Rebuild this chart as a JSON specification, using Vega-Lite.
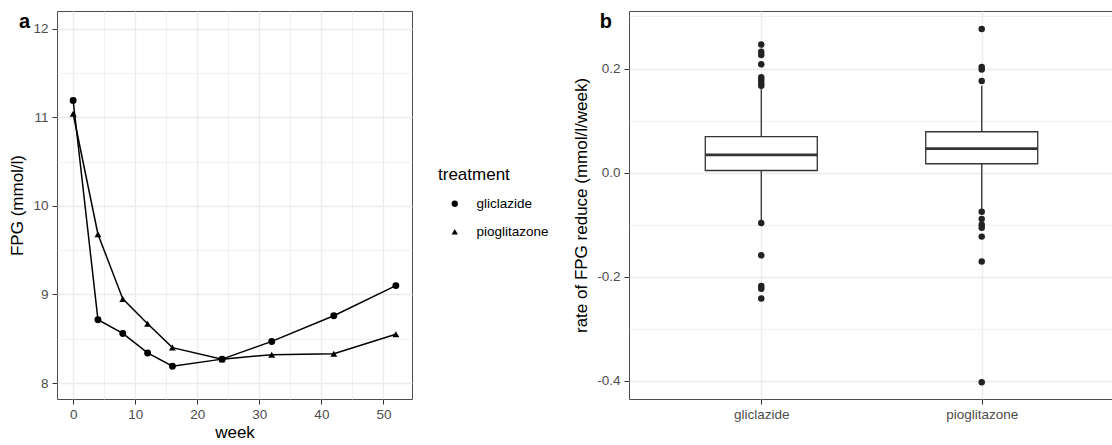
{
  "$schema": "https://vega.github.io/schema/vega-lite/v6.json",
  "padding": {"left": 8, "top": 10, "right": 0, "bottom": 0},
  "background": "white",
  "spacing": 22,
  "datasets": {
    "fpg": [
      {"treatment": "gliclazide", "week": 0, "FPG": 11.19},
      {"treatment": "gliclazide", "week": 4, "FPG": 8.715},
      {"treatment": "gliclazide", "week": 8, "FPG": 8.56},
      {"treatment": "gliclazide", "week": 12, "FPG": 8.34},
      {"treatment": "gliclazide", "week": 16, "FPG": 8.19},
      {"treatment": "gliclazide", "week": 24, "FPG": 8.27},
      {"treatment": "gliclazide", "week": 32, "FPG": 8.47},
      {"treatment": "gliclazide", "week": 42, "FPG": 8.76},
      {"treatment": "gliclazide", "week": 52, "FPG": 9.1},
      {"treatment": "pioglitazone", "week": 0, "FPG": 11.04},
      {"treatment": "pioglitazone", "week": 4, "FPG": 9.68},
      {"treatment": "pioglitazone", "week": 8, "FPG": 8.95},
      {"treatment": "pioglitazone", "week": 12, "FPG": 8.67},
      {"treatment": "pioglitazone", "week": 16, "FPG": 8.4},
      {"treatment": "pioglitazone", "week": 24, "FPG": 8.27},
      {"treatment": "pioglitazone", "week": 32, "FPG": 8.32},
      {"treatment": "pioglitazone", "week": 42, "FPG": 8.33},
      {"treatment": "pioglitazone", "week": 52, "FPG": 8.55}
    ],
    "box": [
      {"treatment": "gliclazide", "lower": -0.092, "q1": 0.004, "median": 0.034, "q3": 0.069, "upper": 0.163},
      {"treatment": "pioglitazone", "lower": -0.071, "q1": 0.017, "median": 0.046, "q3": 0.0785, "upper": 0.167}
    ],
    "out": [
      {"treatment": "gliclazide", "rate": 0.246},
      {"treatment": "gliclazide", "rate": 0.232},
      {"treatment": "gliclazide", "rate": 0.226},
      {"treatment": "gliclazide", "rate": 0.208},
      {"treatment": "gliclazide", "rate": 0.183},
      {"treatment": "gliclazide", "rate": 0.178},
      {"treatment": "gliclazide", "rate": 0.172},
      {"treatment": "gliclazide", "rate": 0.167},
      {"treatment": "gliclazide", "rate": -0.097},
      {"treatment": "gliclazide", "rate": -0.159},
      {"treatment": "gliclazide", "rate": -0.218},
      {"treatment": "gliclazide", "rate": -0.223},
      {"treatment": "gliclazide", "rate": -0.242},
      {"treatment": "pioglitazone", "rate": 0.276},
      {"treatment": "pioglitazone", "rate": 0.203},
      {"treatment": "pioglitazone", "rate": 0.198},
      {"treatment": "pioglitazone", "rate": 0.176},
      {"treatment": "pioglitazone", "rate": -0.075},
      {"treatment": "pioglitazone", "rate": -0.089},
      {"treatment": "pioglitazone", "rate": -0.1},
      {"treatment": "pioglitazone", "rate": -0.106},
      {"treatment": "pioglitazone", "rate": -0.123},
      {"treatment": "pioglitazone", "rate": -0.171},
      {"treatment": "pioglitazone", "rate": -0.403}
    ]
  },
  "hconcat": [
    {
      "width": 355,
      "height": 388,
      "title": {"text": "a", "anchor": "start", "frame": "bounds", "orient": "top", "offset": -37, "baseline": "alphabetic", "dx": 10, "fontSize": 20, "fontWeight": "bold", "color": "#000"},
      "data": {"name": "fpg"},
      "encoding": {
        "x": {
          "field": "week", "type": "quantitative",
          "scale": {"domain": [-2.6, 54.6], "nice": false, "zero": false},
          "axis": {
            "title": "week",
            "values": [0, 5, 10, 15, 20, 25, 30, 35, 40, 45, 50],
            "labelExpr": "datum.value % 10 === 0 ? format(datum.value, 'd') : ''",
            "tickOpacity": {"condition": {"test": "datum.value % 10 !== 0", "value": 0}, "value": 1},
            "gridWidth": {"condition": {"test": "datum.value % 10 !== 0", "value": 0.7}, "value": 1.3},
            "labelPadding": 3,
            "titlePadding": 4
          }
        },
        "y": {
          "field": "FPG", "type": "quantitative",
          "scale": {"domain": [7.82, 12.2], "nice": false, "zero": false},
          "axis": {
            "title": "FPG (mmol/l)",
            "values": [8, 8.5, 9, 9.5, 10, 10.5, 11, 11.5, 12],
            "labelExpr": "datum.value % 1 === 0 ? format(datum.value, 'd') : ''",
            "tickOpacity": {"condition": {"test": "datum.value % 1 !== 0", "value": 0}, "value": 1},
            "gridWidth": {"condition": {"test": "datum.value % 1 !== 0", "value": 0.7}, "value": 1.3},
            "titlePadding": 6
          }
        }
      },
      "layer": [
        {
          "mark": {"type": "line", "color": "#000", "strokeWidth": 1.5},
          "encoding": {"detail": {"field": "treatment"}}
        },
        {
          "mark": {"type": "point", "filled": true, "opacity": 1, "color": "#000"},
          "encoding": {
            "shape": {
              "field": "treatment", "type": "nominal",
              "scale": {"domain": ["gliclazide", "pioglitazone"], "range": ["circle", "triangle-up"]},
              "legend": {
                "title": "treatment",
                "orient": "none",
                "legendX": 381,
                "legendY": 156,
                "padding": 0,
                "titleFontSize": 17,
                "titleFontWeight": "normal",
                "titleColor": "#000",
                "titleFont": "Liberation Sans",
                "titlePadding": 13,
                "labelFontSize": 13.5,
                "labelColor": "#000",
                "labelFont": "Liberation Sans",
                "symbolSize": 40,
                "symbolFillColor": "#000",
                "symbolStrokeColor": "#000",
                "symbolStrokeWidth": 0,
                "symbolOffset": 10,
                "labelOffset": 15,
                "rowPadding": 13
              }
            },
            "size": {"value": 48}
          }
        }
      ],
      "resolve": {"scale": {"shape": "independent"}, "legend": {"shape": "independent"}}
    },
    {
      "width": 485,
      "height": 388,
      "title": {"text": "b", "anchor": "start", "frame": "bounds", "orient": "top", "offset": -37, "baseline": "alphabetic", "dx": 27, "fontSize": 20, "fontWeight": "bold", "color": "#000"},
      "encoding": {
        "x": {
          "field": "treatment", "type": "nominal",
          "scale": {"type": "point", "domain": ["gliclazide", "pioglitazone"], "padding": 0.6},
          "axis": {"title": null, "labelAngle": 0, "labelPadding": 3, "gridWidth": 1.3}
        }
      },
      "layer": [
        {
          "data": {"name": "box"},
          "mark": {"type": "rule", "color": "#333", "strokeWidth": 1.3},
          "encoding": {
            "y": {
              "field": "lower", "type": "quantitative",
              "scale": {"domain": [-0.435, 0.3105], "nice": false, "zero": false},
              "axis": {
                "title": "rate of FPG reduce (mmol/l/week)",
                "values": [-0.4, -0.3, -0.2, -0.1, 0, 0.1, 0.2, 0.3],
                "labelExpr": "abs(round(datum.value * 10)) % 2 === 0 ? replace(format(datum.value, '.1f'), '\u2212', '-') : ''",
                "tickOpacity": {"condition": {"test": "abs(round(datum.value * 10)) % 2 === 1", "value": 0}, "value": 1},
                "gridWidth": {"condition": {"test": "abs(round(datum.value * 10)) % 2 === 1", "value": 0.7}, "value": 1.3},
                "titlePadding": 6
              }
            },
            "y2": {"field": "upper"}
          }
        },
        {
          "data": {"name": "box"},
          "mark": {"type": "bar", "width": 112, "fill": "#fff", "stroke": "#333", "strokeWidth": 1.3},
          "encoding": {
            "y": {"field": "q1", "type": "quantitative"},
            "y2": {"field": "q3"}
          }
        },
        {
          "data": {"name": "box"},
          "mark": {"type": "tick", "color": "#333", "thickness": 2.6, "size": 112, "opacity": 1},
          "encoding": {
            "y": {"field": "median", "type": "quantitative"}
          }
        },
        {
          "data": {"name": "out"},
          "mark": {"type": "circle", "color": "#222", "opacity": 1, "size": 42},
          "encoding": {
            "y": {"field": "rate", "type": "quantitative"}
          }
        }
      ]
    }
  ],
  "config": {
    "font": "Liberation Sans",
    "view": {"stroke": "#4d4d4d", "strokeWidth": 1},
    "title": {"font": "Liberation Sans"},
    "axis": {
      "domain": false,
      "grid": true,
      "gridColor": "#EBEBEB",
      "tickColor": "#333",
      "tickSize": 5,
      "tickWidth": 1,
      "labelFont": "Liberation Sans",
      "labelFontSize": 13.5,
      "labelColor": "#4D4D4D",
      "labelPadding": 4,
      "titleFont": "Liberation Sans",
      "titleFontSize": 17,
      "titleFontWeight": "normal",
      "titleColor": "#000"
    }
  }
}
